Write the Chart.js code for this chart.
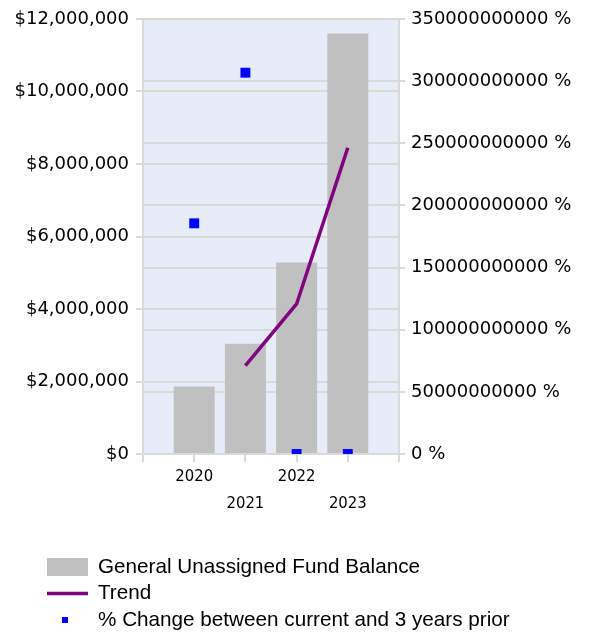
<!DOCTYPE html>
<html>
<head>
<meta charset="utf-8">
<script src="https://cdn.jsdelivr.net/npm/chart.js@4.4.1/dist/chart.umd.min.js"></script>
<style>
  html, body { margin: 0; padding: 0; background: #fff; }
  #wrap { width: 590px; height: 634px; }
</style>
</head>
<body>
<div id="wrap"><canvas id="fundChart" width="590" height="634"></canvas></div>
<script>
// Fiscal years, padded with an empty slot on each side of the axis
const years = ['', '2020', '2021', '2022', '2023', ''];

// General unassigned fund balance ($)
const fundBalance = [null, 1860000, 3040000, 5280000, 11600000, null];

// Trend line ($)
const trendValues = [null, null, 2440000, 4140000, 8450000, null];

// % change between current and 3 years prior (right axis)
const pctChange = [null, 185600000000, 306800000000, 0, 0, null];

const leftTicks = { min: 0, max: 12000000, step: 2000000 };
const rightTicks = { min: 0, max: 350000000000, step: 50000000000 };

const gridGray = '#d9d9d9';
const axisFont = { family: 'DejaVu Sans', size: 18 };

// light blue plot background
const plotBackground = {
    id: 'plotBackground',
    beforeDraw(chart) {
        const { ctx, chartArea: a } = chart;
        ctx.save();
        ctx.fillStyle = '#e6edf9';
        ctx.fillRect(a.left, a.top, a.right - a.left, a.bottom - a.top);
        ctx.restore();
    }
};

// one-item-per-row legend under the axis
const stackedLegend = {
    id: 'stackedLegend',
    afterDraw(chart) {
        const ctx = chart.ctx;
        const rows = [
            { ds: chart.data.datasets[0], kind: 'box' },
            { ds: chart.data.datasets[1], kind: 'line' },
            { ds: chart.data.datasets[2], kind: 'point' }
        ];
        const x0 = 47, boxW = 41, textX = 98;
        let y = 567;
        ctx.save();
        ctx.font = '20.7px "Liberation Sans", Arial, sans-serif';
        ctx.textBaseline = 'middle';
        ctx.fillStyle = '#000';
        rows.forEach(r => {
            if (r.kind === 'box') {
                ctx.fillStyle = r.ds.backgroundColor;
                ctx.fillRect(x0, y - 9, boxW, 18);
            } else if (r.kind === 'line') {
                ctx.strokeStyle = r.ds.borderColor;
                ctx.lineWidth = 3.5;
                ctx.beginPath();
                ctx.moveTo(x0, y);
                ctx.lineTo(x0 + boxW, y);
                ctx.stroke();
            } else {
                ctx.fillStyle = r.ds.pointBackgroundColor;
                ctx.fillRect(x0 + 15, y - 3, 6, 6);
            }
            ctx.fillStyle = '#000';
            ctx.fillText(r.ds.label, textX, y);
            y += 26.5;
        });
        ctx.restore();
    }
};

const ctx = document.getElementById('fundChart').getContext('2d');

new Chart(ctx, {
    type: 'bar',
    data: {
        labels: years,
        datasets: [
            {
                label: 'General Unassigned Fund Balance',
                data: fundBalance,
                backgroundColor: '#c0c0c0',
                borderWidth: 0,
                yAxisID: 'y',
                categoryPercentage: 1,
                barPercentage: 0.8,
                order: 3
            },
            {
                type: 'line',
                label: 'Trend',
                data: trendValues,
                borderColor: '#800080',
                borderWidth: 3.5,
                pointRadius: 0,
                fill: false,
                yAxisID: 'y',
                order: 2
            },
            {
                type: 'line',
                label: '% Change between current and 3 years prior',
                data: pctChange,
                showLine: false,
                pointStyle: 'rect',
                pointRadius: 7,
                pointBorderWidth: 0,
                pointBackgroundColor: '#0000ff',
                pointBorderColor: '#0000ff',
                yAxisID: 'y1',
                order: 1
            }
        ]
    },
    options: {
        responsive: false,
        animation: false,
        layout: { padding: { top: 19, bottom: 120, left: 0, right: 0 } },
        plugins: {
            legend: { display: false },
            tooltip: { enabled: false }
        },
        scales: {
            x: {
                offset: false,
                grid: {
                    offset: false,
                    drawOnChartArea: false,
                    color: gridGray,
                    lineWidth: 2,
                    tickLength: 8
                },
                border: { color: gridGray, width: 2 },
                ticks: {
                    autoSkip: false,
                    maxRotation: 0,
                    color: '#000',
                    padding: 2,
                    font: { family: 'DejaVu Sans Condensed', size: 16.5, lineHeight: 1.6 },
                    // every other year drops to a second line
                    callback: function(value, index) {
                        const label = this.getLabelForValue(value);
                        return index % 2 === 0 && label ? ['', label] : label;
                    }
                },
                afterFit: s => { s.height = 60; }
            },
            y: {
                position: 'left',
                min: leftTicks.min,
                max: leftTicks.max,
                grid: { color: gridGray, lineWidth: 2, tickLength: 7 },
                border: { color: gridGray, width: 2 },
                ticks: {
                    stepSize: leftTicks.step,
                    color: '#000',
                    padding: 7,
                    font: axisFont,
                    callback: v => '$' + v.toLocaleString('en-US')
                },
                afterFit: s => { s.width = 143; }
            },
            y1: {
                position: 'right',
                min: rightTicks.min,
                max: rightTicks.max,
                grid: { color: gridGray, lineWidth: 2, tickLength: 6 },
                border: { color: gridGray, width: 2 },
                ticks: {
                    stepSize: rightTicks.step,
                    color: '#000',
                    padding: 6,
                    font: axisFont,
                    callback: v => String(v) + ' %'
                },
                afterFit: s => { s.width = 191; }
            }
        }
    },
    plugins: [plotBackground, stackedLegend]
});
</script>
</body>
</html>
